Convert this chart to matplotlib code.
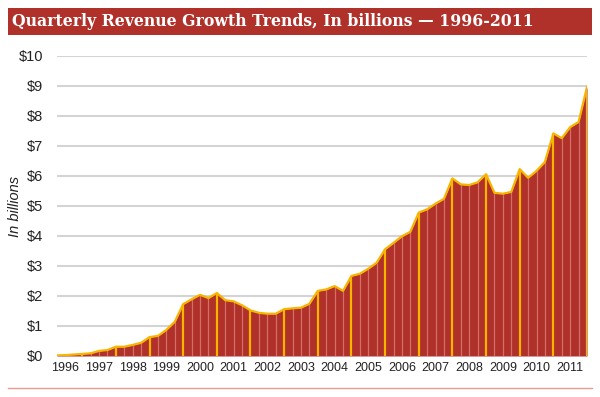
import matplotlib
matplotlib.use("Agg")
import matplotlib.pyplot as plt
from matplotlib.patches import Rectangle
from matplotlib.lines import Line2D

# quarterly revenue, in billions, 1996 Q1 .. 2011 Q4
revenue = [
    0.02, 0.03, 0.05, 0.07,
    0.09, 0.17, 0.20, 0.31,
    0.31, 0.37, 0.44, 0.63,
    0.67, 0.87, 1.14, 1.73,
    1.89, 2.04, 1.93, 2.10,
    1.86, 1.82, 1.69, 1.52,
    1.44, 1.41, 1.41, 1.56,
    1.59, 1.61, 1.74, 2.17,
    2.22, 2.33, 2.17, 2.67,
    2.74, 2.91, 3.11, 3.56,
    3.77, 3.99, 4.14, 4.78,
    4.89, 5.08, 5.24, 5.92,
    5.72, 5.70, 5.79, 6.06,
    5.44, 5.41, 5.47, 6.23,
    5.94, 6.17, 6.47, 7.42,
    7.26, 7.63, 7.80, 8.97,
]
years = list(range(1996, 2012))
y_ticks = list(range(0, 11))
y_labels = ["$%d" % v for v in y_ticks]

RED = "#b0302a"
YELLOW = "#f7b500"
THIN = "#d27068"

fig = plt.figure(figsize=(6.0, 3.97), dpi=100)

# title banner
fig.patches.append(Rectangle((8 / 600, 1 - 35 / 397), 584 / 600, 27 / 397,
                             transform=fig.transFigure, facecolor=RED,
                             edgecolor="none"))
fig.text(12 / 600, 1 - 21.5 / 397,
         "Quarterly Revenue Growth Trends, In billions \u2014 1996-2011",
         color="white", fontsize=11.3, fontweight="bold", family="DejaVu Serif",
         va="center", ha="left")

# bottom rule
fig.lines.append(Line2D([8 / 600, 592 / 600], [1 - 388 / 397, 1 - 388 / 397],
                        transform=fig.transFigure, color="#e89a94", lw=1.0))

ax = fig.add_axes([57 / 600, 41 / 397, 530 / 600, 300 / 397])
x = list(range(len(revenue)))

ax.set_xlim(0, len(revenue) - 1)
ax.set_ylim(0, 10)
ax.set_yticks(y_ticks)
ax.set_yticklabels(y_labels, fontsize=10.5, family="Liberation Sans", color="#222222")
ax.grid(axis="y", color="#d4d4d4", lw=1.5)
ax.set_axisbelow(True)

ax.fill_between(x, revenue, 0, color=RED, lw=0, zorder=2)

# quarter dividers, year dividers in yellow
for i, v in enumerate(revenue):
    if i % 4 == 3:
        ax.vlines(i, 0, v, color=YELLOW, lw=1.6, zorder=3)
    elif i > 0:
        ax.vlines(i, 0, v, color=THIN, lw=0.9, zorder=3)

ax.plot(x, revenue, color=YELLOW, lw=1.6, zorder=4, solid_joinstyle="round")

ax.set_xticks([4 * k + 1 for k in range(len(years))])
ax.set_xticklabels([str(y) for y in years], fontsize=9, family="Liberation Sans",
                   color="#222222")

for side in ["top", "right", "left", "bottom"]:
    ax.spines[side].set_visible(False)
ax.tick_params(length=0, pad=4)
ax.tick_params(axis="y", pad=10)

ax.set_ylabel("In billions", fontsize=10.5, style="italic", family="Liberation Sans",
              color="#222222")
ax.yaxis.set_label_coords(-0.066, 0.50)

fig.savefig("out.png", dpi=100)
